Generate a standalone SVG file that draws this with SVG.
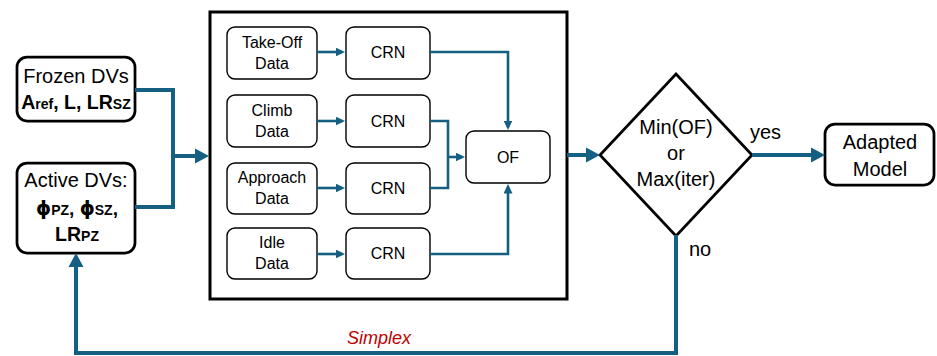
<svg xmlns="http://www.w3.org/2000/svg" width="937" height="356" viewBox="0 0 937 356">
  <style>
    text { font-family: "Liberation Sans", Arial, sans-serif; fill: #000; text-anchor: middle; }
    .node { fill: #fff; stroke: #000; stroke-width: 2.75; }
    .inner { fill: #fff; stroke: #000; stroke-width: 1.4; }
    .frame { fill: #fff; stroke: #000; stroke-width: 3; }
    .t20 { font-size: 20px; }
    .t16 { font-size: 16px; }
    .b { font-weight: bold; }
    .phi { font-family: "DejaVu Sans", sans-serif; font-size: 19px; }
    .wire { fill: none; stroke: #156082; stroke-width: 4; stroke-linejoin: miter; }
    .wire-s { fill: none; stroke: #156082; stroke-width: 2.6; stroke-linejoin: miter; }
    .simplex { font-size: 18px; font-style: italic; fill: #c00000; }
  </style>
  <defs>
    <marker id="arrowL" markerUnits="userSpaceOnUse" markerWidth="15" markerHeight="16" refX="10" refY="8" orient="auto">
      <path d="M0,0.5 L14,8 L0,15.5 z" fill="#156082"/>
    </marker>
    <marker id="arrowS" markerUnits="userSpaceOnUse" markerWidth="10" markerHeight="10" refX="6.5" refY="4.5" orient="auto">
      <path d="M0,0 L9.5,4.5 L0,9 z" fill="#156082"/>
    </marker>
  </defs>

  <rect width="937" height="356" fill="#fff"/>

  <!-- evaluation block frame -->
  <g id="evaluation">
    <rect class="frame" x="210" y="12" width="357" height="287"/>
  </g>

  <g id="frozen-dvs">
    <rect class="node" x="17" y="57" width="118" height="64" rx="10"/>
    <text class="t20" x="76" y="83">Frozen DVs</text>
    <text class="b" x="76" y="109" font-size="19.5">A<tspan font-size="14">ref</tspan>, L, LR<tspan font-size="14">SZ</tspan></text>
  </g>

  <g id="active-dvs">
    <rect class="node" x="17" y="163" width="118" height="90" rx="10"/>
    <text class="t20" x="76" y="187">Active DVs:</text>
    <text class="b" x="77" y="215" font-size="19"><tspan class="phi">ϕ</tspan><tspan font-size="14">PZ</tspan>, <tspan class="phi">ϕ</tspan><tspan font-size="14">SZ</tspan>,</text>
    <text class="b" x="77" y="241" font-size="19.5">LR<tspan font-size="14">PZ</tspan></text>
  </g>

  <g id="takeoff-data">
    <rect class="inner" x="227" y="27" width="90" height="52" rx="8"/>
    <text class="t16" x="272" y="48">Take-Off</text>
    <text class="t16" x="272" y="69">Data</text>
  </g>
  <g id="climb-data">
    <rect class="inner" x="227" y="95" width="90" height="52" rx="8"/>
    <text class="t16" x="272" y="116">Climb</text>
    <text class="t16" x="272" y="137">Data</text>
  </g>
  <g id="approach-data">
    <rect class="inner" x="227" y="163" width="90" height="51" rx="8"/>
    <text class="t16" x="272" y="183">Approach</text>
    <text class="t16" x="272" y="204">Data</text>
  </g>
  <g id="idle-data">
    <rect class="inner" x="227" y="228" width="90" height="51" rx="8"/>
    <text class="t16" x="272" y="248">Idle</text>
    <text class="t16" x="272" y="269">Data</text>
  </g>

  <g id="crn-takeoff">
    <rect class="inner" x="346" y="27" width="84" height="52" rx="8"/>
    <text class="t16" x="388" y="58">CRN</text>
  </g>
  <g id="crn-climb">
    <rect class="inner" x="346" y="95" width="84" height="52" rx="8"/>
    <text class="t16" x="388" y="127">CRN</text>
  </g>
  <g id="crn-approach">
    <rect class="inner" x="346" y="163" width="84" height="51" rx="8"/>
    <text class="t16" x="388" y="194">CRN</text>
  </g>
  <g id="crn-idle">
    <rect class="inner" x="346" y="228" width="84" height="51" rx="8"/>
    <text class="t16" x="388" y="259">CRN</text>
  </g>

  <g id="of">
    <rect class="inner" x="466" y="131" width="84" height="52" rx="8"/>
    <text class="t16" x="508" y="163">OF</text>
  </g>

  <g id="decision">
    <polygon points="676,74 752,155 676,236 600,155" fill="#fff" stroke="#000" stroke-width="2.75"/>
    <text class="t20" x="676" y="134">Min(OF)</text>
    <text class="t20" x="676" y="160">or</text>
    <text class="t20" x="676" y="186">Max(iter)</text>
  </g>

  <g id="adapted-model">
    <rect class="node" x="825" y="124" width="109" height="61" rx="10"/>
    <text class="t20" x="880" y="149">Adapted</text>
    <text class="t20" x="880" y="176">Model</text>
  </g>

  <g id="connectors">
    <!-- design variables into the evaluation block -->
    <path class="wire" d="M135,90 H173 V156"/>
    <path class="wire" d="M135,207 H173 V156"/>
    <path class="wire" d="M171,156 H205" marker-end="url(#arrowL)"/>

    <!-- data sets into their networks -->
    <path class="wire-s" d="M317,52 H342" marker-end="url(#arrowS)"/>
    <path class="wire-s" d="M317,121 H342" marker-end="url(#arrowS)"/>
    <path class="wire-s" d="M317,188 H342" marker-end="url(#arrowS)"/>
    <path class="wire-s" d="M317,254 H342" marker-end="url(#arrowS)"/>

    <!-- networks into the objective function -->
    <path class="wire-s" d="M430,52 H508 V127" marker-end="url(#arrowS)"/>
    <path class="wire-s" d="M430,254 H508 V187" marker-end="url(#arrowS)"/>
    <path class="wire-s" d="M430,121 H448 V157"/>
    <path class="wire-s" d="M430,188 H448 V157"/>
    <path class="wire-s" d="M447,157 H462" marker-end="url(#arrowS)"/>

    <!-- objective to decision, decision to result -->
    <path class="wire" d="M567,155 H596" marker-end="url(#arrowL)"/>
    <path class="wire" d="M752,155 H821" marker-end="url(#arrowL)"/>

    <!-- simplex feedback loop -->
    <path class="wire" d="M676,235 V353 H76 V257" stroke-width="3.6" marker-end="url(#arrowL)"/>

    <text class="t20" x="750" y="139" style="text-anchor:start">yes</text>
    <text class="t20" x="689" y="256" style="text-anchor:start">no</text>
    <text class="simplex" x="379" y="344">Simplex</text>
  </g>
</svg>
